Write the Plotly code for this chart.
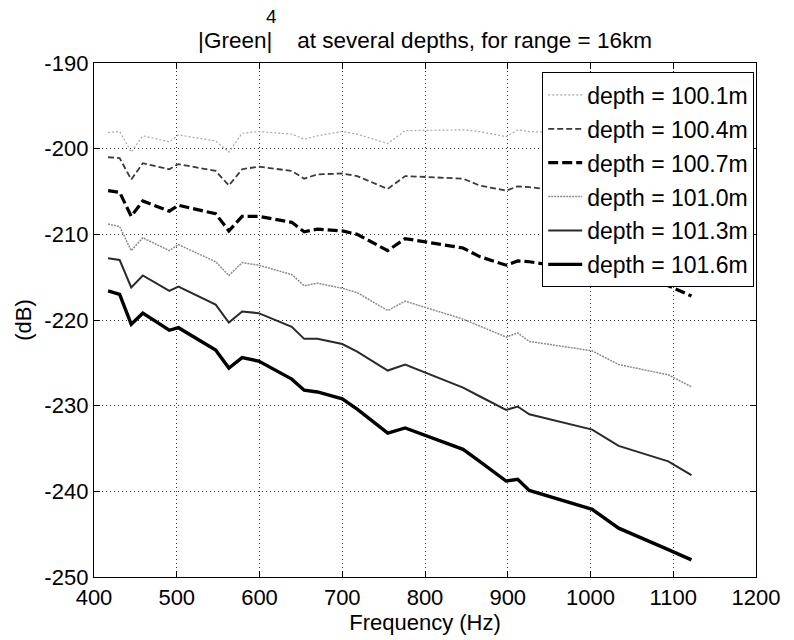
import plotly.graph_objects as go

freq = [417, 431, 445, 459, 491, 502, 547, 563, 579, 599, 639, 654, 670, 700, 718,
        755, 776, 846, 866, 898, 912, 926, 1002, 1034, 1094, 1122]

d1001 = [-198.1, -198.0, -200.4, -198.5, -199.2, -198.4, -199.1, -200.4, -198.2, -198.0,
         -198.3, -198.9, -198.5, -198.0, -198.3, -199.4, -197.9, -197.8, -198.0, -198.6,
         -197.8, -198.0, -198.3, -198.6, -198.8, -199.0]
d1004 = [-201.0, -201.1, -203.6, -201.7, -202.4, -201.8, -202.6, -204.3, -202.4, -202.1,
         -202.6, -203.5, -203.0, -202.9, -203.2, -204.7, -203.2, -203.5, -204.3, -204.9,
         -204.4, -204.5, -205.3, -205.8, -206.5, -207.0]
d1007 = [-204.9, -205.1, -207.9, -206.1, -207.3, -206.6, -207.6, -209.6, -207.9, -207.9,
         -208.6, -209.7, -209.4, -209.6, -210.0, -211.9, -210.5, -211.6, -212.6, -213.6,
         -213.1, -213.2, -214.3, -215.0, -216.0, -217.2]
d1010 = [-208.8, -209.1, -211.9, -210.4, -211.9, -211.2, -213.2, -214.8, -213.3, -213.6,
         -214.7, -216.0, -215.7, -216.3, -216.8, -218.9, -217.8, -219.9, -220.7, -222.0,
         -221.5, -222.5, -223.6, -225.2, -226.4, -227.8]
d1013 = [-212.8, -213.0, -216.2, -214.8, -216.6, -216.1, -218.2, -220.3, -219.0, -219.2,
         -220.8, -222.2, -222.2, -222.8, -223.7, -225.9, -225.2, -227.9, -228.9, -230.5,
         -230.1, -231.0, -232.8, -234.7, -236.5, -238.1]
d1016 = [-216.6, -217.0, -220.5, -219.2, -221.2, -220.9, -223.5, -225.6, -224.4, -224.8,
         -226.9, -228.2, -228.4, -229.2, -230.4, -233.2, -232.6, -235.1, -236.5, -238.8,
         -238.6, -239.9, -242.1, -244.3, -246.8, -248.0]

names = ["depth = 100.1m", "depth = 100.4m", "depth = 100.7m",
         "depth = 101.0m", "depth = 101.3m", "depth = 101.6m"]
series = [d1001, d1004, d1007, d1010, d1013, d1016]

x_ticks = [400, 500, 600, 700, 800, 900, 1000, 1100, 1200]
x_ticktext = ["400", "500", "600", "700", "800", "900", "1000", "1100", "1200"]
y_ticks = [-250, -240, -230, -220, -210, -200, -190]
y_ticktext = ["-250", "-240", "-230", "-220", "-210", "-200", "-190"]

styles = [
    dict(color="#a8a8a8", width=1.2, dash="2px,2px"),
    dict(color="#3a3a3a", width=1.8, dash="6px,3px"),
    dict(color="#000000", width=3.2, dash="10px,4px"),
    dict(color="#8c8c8c", width=1.5, dash="2px,1px"),
    dict(color="#2a2a2a", width=2.0),
    dict(color="#000000", width=3.4),
]

FONT = "Liberation Sans, Arial, Helvetica, sans-serif"

fig = go.Figure()
for i, (nm, ys, st) in enumerate(zip(names, series, styles)):
    fig.add_trace(go.Scatter(x=freq, y=ys, mode="lines", name=nm, line=st,
                             legendgroup=f"g{i}"))

axis_common = dict(
    showline=True, linecolor="black", linewidth=1.4, mirror="ticks",
    ticks="inside", ticklen=6, tickcolor="black",
    showgrid=True, gridcolor="#333", gridwidth=1, griddash="1px,3px",
    zeroline=False, tickfont=dict(family=FONT, size=22, color="black"),
)

fig.update_layout(
    width=794, height=640,
    margin=dict(l=94, r=38, t=63, b=63),
    paper_bgcolor="white", plot_bgcolor="white",
    font=dict(family=FONT, color="black"),
    title=dict(text="|Green|\u00a0\u00a0\u00a0\u00a0at several depths, for range = 16km",
               x=0.5, xref="paper", xanchor="center",
               y=1 - 40 / 640, yref="container", yanchor="middle",
               font=dict(family=FONT, size=22.5, color="black")),
    xaxis=dict(range=[400, 1200], tickvals=x_ticks, ticktext=x_ticktext,
               title=dict(text="Frequency (Hz)", font=dict(family=FONT, size=22), standoff=4),
               **axis_common),
    yaxis=dict(range=[-250, -190], tickvals=y_ticks, ticktext=y_ticktext,
               title=dict(text="(dB)", font=dict(family=FONT, size=22), standoff=6),
               **axis_common),
    legend=dict(x=0.997, y=0.982, xanchor="right", yanchor="top",
                bgcolor="white", bordercolor="black", borderwidth=1.2,
                font=dict(family=FONT, size=23, color="black"),
                tracegroupgap=1, itemwidth=34),
    showlegend=True,
)

fig.add_annotation(text="4", x=0.268, y=1.09, xref="paper", yref="paper",
                   showarrow=False, xanchor="center", yanchor="middle",
                   font=dict(family=FONT, size=19, color="black"))

fig.write_html("out.html")
